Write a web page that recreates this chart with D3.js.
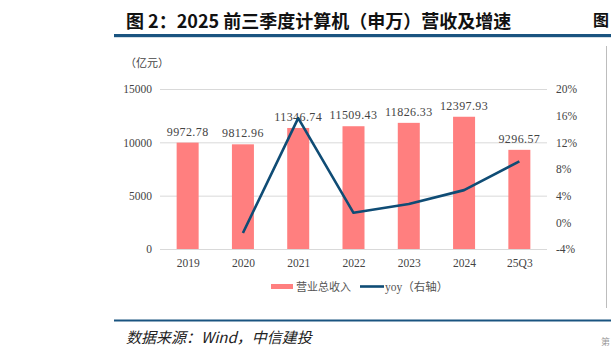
<!DOCTYPE html>
<html><head><meta charset="utf-8">
<script src="https://cdn.jsdelivr.net/npm/d3@7"></script>
<style>body{margin:0;background:#fff}svg{display:block}</style>
</head><body>
<svg id="c" width="611" height="359"></svg>
<script>
const categories = ["2019","2020","2021","2022","2023","2024","25Q3"];
const revenue = [9972.78, 9812.96, 11346.74, 11509.43, 11826.33, 12397.93, 9296.57];
const yoy = [null, -1.60, 15.63, 1.43, 2.75, 4.83, 9.15];
const leftTicks = [0, 5000, 10000, 15000];
const rightTicks = [-4, 0, 4, 8, 12, 16, 20];
const title = "图 2：2025 前三季度计算机（申万）营收及增速";
const source = "数据来源：Wind，中信建投";
const unitLabel = "（亿元）";
const legendLabels = ["营业总收入", "yoy（右轴）"];

const svg = d3.select("#c");
const serif = "'Liberation Serif','Noto Sans CJK SC',serif";
const cjk = "'Noto Sans CJK SC',sans-serif";
const barColor = "#FF7F7F", lineColor = "#0F4C75", blue = "#1A5480";

// Title
svg.append("text").attr("x",126).attr("y",28).attr("font-family",cjk).attr("font-weight","bold")
  .attr("font-size",18).attr("fill","#111").text(title);
svg.append("rect").attr("x",114).attr("y",34).attr("width",497).attr("height",3.2).attr("fill",blue);
svg.append("text").attr("x",593).attr("y",26).attr("font-family",cjk).attr("font-weight","bold")
  .attr("font-size",16).attr("fill","#111").text("图");
svg.append("line").attr("x1",606.5).attr("x2",606.5).attr("y1",46).attr("y2",308).attr("stroke","#bdbdbd").attr("stroke-width",1);

// Scales
const xc = d3.scalePoint().domain(categories).range([160,547]).padding(0.5);
const yL = d3.scaleLinear().domain([0,15000]).range([249,89]);
const yR = d3.scaleLinear().domain([-4,20]).range([249,89]);

// gridlines
svg.append("g").selectAll("line").data(leftTicks).join("line")
  .attr("x1",160).attr("x2",547).attr("y1",d=>yL(d)+0.5).attr("y2",d=>yL(d)+0.5)
  .attr("stroke","#d9d9d9").attr("stroke-width",1);

// left axis
const gl = svg.append("g").attr("transform","translate(160,0)")
  .call(d3.axisLeft(yL).tickValues(leftTicks).tickSize(0).tickPadding(8).tickFormat(d3.format("d")));
gl.select(".domain").remove();
gl.selectAll("text").attr("font-family",serif).attr("font-size",11.5).attr("fill","#444");

// right axis
const gr = svg.append("g").attr("transform","translate(547,0)")
  .call(d3.axisRight(yR).tickValues(rightTicks).tickSize(0).tickPadding(9).tickFormat(d=>d+"%"));
gr.select(".domain").remove();
gr.selectAll("text").attr("font-family",serif).attr("font-size",11.5).attr("fill","#444");

// bottom axis
const gb = svg.append("g").attr("transform","translate(0,249)")
  .call(d3.axisBottom(xc).tickSize(0).tickPadding(10));
gb.select(".domain").remove();
gb.selectAll("text").attr("font-family",serif).attr("font-size",11.5).attr("fill","#444");

// unit label
svg.append("text").attr("x",125).attr("y",67).attr("font-family",cjk).attr("font-size",11).attr("fill","#444").text(unitLabel);

// bars
svg.append("g").selectAll("rect").data(categories).join("rect")
  .attr("x",d=>xc(d)-11).attr("width",22)
  .attr("y",(d,i)=>yL(revenue[i])).attr("height",(d,i)=>yL(0)-yL(revenue[i]))
  .attr("fill",barColor);

// bar labels
svg.append("g").selectAll("text").data(categories).join("text")
  .attr("x",d=>xc(d)).attr("y",(d,i)=>yL(revenue[i])-7)
  .attr("text-anchor","middle").attr("font-family",serif).attr("font-size",12).attr("letter-spacing",0.4)
  .attr("fill","#444").text((d,i)=>d3.format(".2f")(revenue[i]));

// line
const pts = categories.map((c,i)=>({c,v:yoy[i]})).filter(p=>p.v!==null);
svg.append("path").datum(pts)
  .attr("d",d3.line().x(p=>xc(p.c)).y(p=>yR(p.v)))
  .attr("fill","none").attr("stroke",lineColor).attr("stroke-width",2.6).attr("stroke-linejoin","round");

// legend
svg.append("rect").attr("x",271).attr("y",284).attr("width",22).attr("height",5).attr("fill",barColor);
svg.append("text").attr("x",296).attr("y",291).attr("font-family",cjk).attr("font-size",11).attr("fill","#555").text(legendLabels[0]);
svg.append("line").attr("x1",360).attr("x2",384).attr("y1",286.5).attr("y2",286.5).attr("stroke",lineColor).attr("stroke-width",2.6);
svg.append("text").attr("x",385).attr("y",291).attr("font-family",serif).attr("font-size",11.5).attr("fill","#555").text(legendLabels[1]);

// bottom rule & source
svg.append("rect").attr("x",114).attr("y",319.5).attr("width",497).attr("height",2).attr("fill",blue);
svg.append("text").attr("x",126).attr("y",343).attr("font-family",cjk).attr("font-style","italic")
  .attr("font-size",15).attr("fill","#222").text(source);
svg.append("text").attr("x",601).attr("y",345).attr("font-family",cjk).attr("font-size",9).attr("fill","#999").text("第");
</script>
</body></html>
